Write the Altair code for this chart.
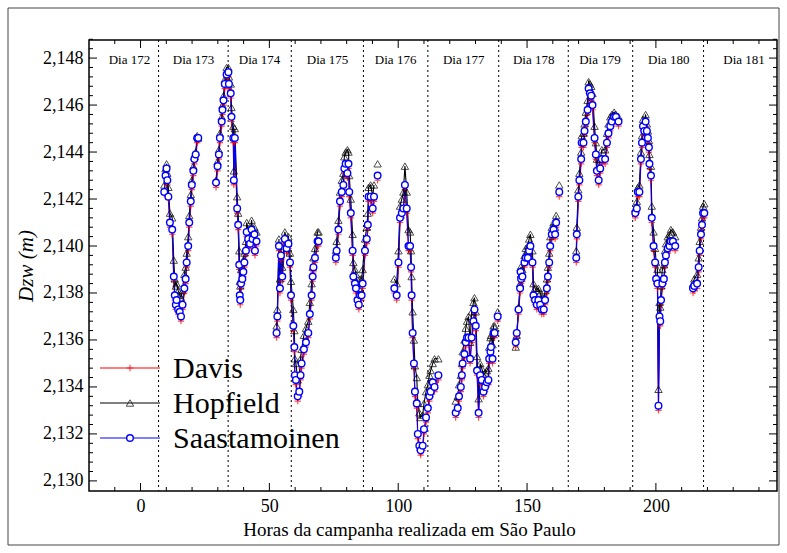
import altair as alt
import pandas as pd

FONT = "Liberation Serif"

# ---------------- data ----------------
series_names = ["Davis", "Hopfield", "Saastamoinen"]

day_labels = ["Dia 172", "Dia 173", "Dia 174", "Dia 175", "Dia 176",
              "Dia 177", "Dia 178", "Dia 179", "Dia 180", "Dia 181"]
day_label_hours = [-4.3, 20.6, 46.2, 72.6, 99.0, 125.4, 152.6, 178.3, 205.0, 234.2]
day_boundaries = [7.0, 34.0, 58.5, 86.5, 111.5, 139.0, 166.0, 191.0, 218.5]

x_tick_values = [0, 50, 100, 150, 200]
y_tick_values = [2.130, 2.132, 2.134, 2.136, 2.138, 2.140, 2.142, 2.144, 2.146, 2.148]

# hours per continuous segment
hours = [
    [9.2, 9.7, 10.1, 10.4, 10.8, 11.4, 12.3, 12.9, 13.3, 13.7, 14.0, 14.6, 15.2, 15.7, 16.3, 17.0, 17.5, 17.9, 18.5, 18.9, 19.5, 19.9, 20.5, 20.9, 21.4, 22.0, 22.4],
    [29.3, 29.9, 30.4, 30.8, 31.5, 31.8, 32.2, 32.7, 33.4, 34.1, 34.3, 35.0, 35.3, 36.0, 36.2, 36.6, 37.5, 37.9, 38.3, 38.5, 38.7, 39.0, 39.5, 39.9, 40.3, 40.9, 41.2, 41.8, 42.5, 43.1, 43.5, 44.2, 44.4, 45.0],
    [52.8, 53.1, 53.7, 54.1, 54.5, 55.0, 56.0, 56.7, 57.4, 58.0, 58.4, 59.3, 59.7, 59.9, 60.3, 61.0, 61.6, 62.1, 62.5, 63.4, 64.2, 65.1, 65.7, 66.4, 66.8, 67.1, 67.7, 68.7, 69.1],
    [75.8, 76.1, 76.8, 77.4, 78.1, 78.7, 79.1, 79.6, 80.3, 80.7, 81.0, 81.6, 82.3, 82.6, 83.2, 83.6, 84.2, 84.7, 85.2, 85.8, 86.2, 87.1, 87.8, 88.2, 88.5, 89.3, 90.1, 90.6],
    [92.0],
    [98.5, 99.4, 100.1, 100.7, 101.4, 102.0, 102.6, 103.3, 104.0, 104.6, 105.0, 105.2, 105.6, 106.1, 106.5, 107.2, 107.6, 108.2, 108.7, 109.5, 110.0, 110.8, 111.5, 112.1, 112.6, 113.4, 114.1, 115.6],
    [122.3, 123.1, 123.6, 124.3, 124.7, 125.0, 125.7, 126.2, 126.7, 127.3, 127.9, 128.5, 129.2, 129.6, 130.1, 130.6, 131.2, 131.8, 132.4, 133.1, 133.7, 134.4, 135.0, 135.3, 135.8, 136.0, 136.6, 137.0, 137.4],
    [138.6],
    [145.6, 146.0, 146.7, 147.3, 147.5, 147.7, 148.2, 149.0, 149.5, 150.3, 150.8, 151.3, 152.1, 152.5, 153.1, 153.8, 154.4, 155.1, 155.7, 156.5, 157.0, 157.7, 158.1, 158.6, 159.0, 159.6, 160.3, 160.9, 161.3],
    [162.5],
    [169.1, 169.3, 169.9, 170.3, 171.0, 171.2, 171.9, 172.3, 172.8, 173.5, 173.9, 174.4, 174.9, 175.4, 176.2, 176.7, 177.1, 177.8, 178.4, 179.0, 180.3, 181.0, 181.6, 182.3, 182.9, 183.8, 184.5, 185.5],
    [192.0, 192.6, 193.0, 193.6, 194.2, 194.6, 195.0, 195.5, 196.0, 196.5, 196.9, 197.3, 197.5, 198.1, 198.4, 199.1, 199.7, 200.1, 200.6, 201.0, 201.4, 201.7, 202.0, 202.5, 203.1, 203.5, 203.9, 204.6, 205.3, 205.8, 206.6, 207.5],
    [214.4, 214.9, 216.0, 216.6, 217.0, 217.5, 217.9, 218.3, 218.8],
]

saastamoinen = [
    [2.1423, 2.1430, 2.1433, 2.1428, 2.1421, 2.1410, 2.1407, 2.1387, 2.1379, 2.1375, 2.1377, 2.1373, 2.1372, 2.1370, 2.1375, 2.1382, 2.1386, 2.1393, 2.1400, 2.1410, 2.1419, 2.1426, 2.1432, 2.1437, 2.1439, 2.1446, 2.1446],
    [2.1427, 2.1434, 2.1439, 2.1446, 2.1453, 2.1458, 2.1462, 2.1469, 2.1473, 2.1474, 2.1469, 2.1465, 2.1455, 2.1446, 2.1428, 2.1446, 2.1416, 2.1409, 2.1392, 2.1379, 2.1377, 2.1384, 2.1386, 2.1389, 2.1393, 2.1398, 2.1406, 2.1403, 2.1401, 2.1407, 2.1403, 2.1405, 2.1398, 2.1402],
    [2.1363, 2.1370, 2.1400, 2.1382, 2.1396, 2.1387, 2.1403, 2.1399, 2.1401, 2.1393, 2.1379, 2.1366, 2.1357, 2.1345, 2.1343, 2.1336, 2.1338, 2.1345, 2.1350, 2.1356, 2.1359, 2.1363, 2.1371, 2.1379, 2.1387, 2.1391, 2.1395, 2.1402, 2.1402],
    [2.1395, 2.1398, 2.1407, 2.1419, 2.1423, 2.1426, 2.1433, 2.1435, 2.1431, 2.1435, 2.1423, 2.1414, 2.1398, 2.1387, 2.1384, 2.1382, 2.1377, 2.1375, 2.1379, 2.1379, 2.1384, 2.1398, 2.1403, 2.1409, 2.1421, 2.1421, 2.1416, 2.1421],
    [2.1430],
    [2.1382, 2.1379, 2.1393, 2.1412, 2.1414, 2.1416, 2.1426, 2.1416, 2.1400, 2.1400, 2.1391, 2.1379, 2.1363, 2.1350, 2.1338, 2.1333, 2.1320, 2.1315, 2.1313, 2.1315, 2.1322, 2.1327, 2.1331, 2.1336, 2.1338, 2.1342, 2.1340, 2.1345],
    [2.1329, 2.1331, 2.1336, 2.1340, 2.1345, 2.1350, 2.1354, 2.1359, 2.1361, 2.1361, 2.1352, 2.1361, 2.1368, 2.1373, 2.1366, 2.1347, 2.1329, 2.1345, 2.1343, 2.1338, 2.1340, 2.1342, 2.1343, 2.1352, 2.1355, 2.1357, 2.1352, 2.1363, 2.1363],
    [2.1370],
    [2.1359, 2.1363, 2.1373, 2.1382, 2.1389, 2.1386, 2.1387, 2.1393, 2.1395, 2.1395, 2.1398, 2.1400, 2.1393, 2.1379, 2.1377, 2.1375, 2.1377, 2.1375, 2.1373, 2.1373, 2.1377, 2.1382, 2.1387, 2.1393, 2.1400, 2.1405, 2.1407, 2.1405, 2.1410],
    [2.1423],
    [2.1395, 2.1405, 2.1421, 2.1428, 2.1437, 2.1444, 2.1444, 2.1449, 2.1453, 2.1458, 2.1467, 2.1465, 2.1464, 2.1460, 2.1446, 2.1439, 2.1432, 2.1428, 2.1433, 2.1437, 2.1437, 2.1444, 2.1448, 2.1451, 2.1453, 2.1455, 2.1455, 2.1453],
    [2.1414, 2.1416, 2.1423, 2.1423, 2.1437, 2.1444, 2.1451, 2.1449, 2.1453, 2.1449, 2.1446, 2.1442, 2.1435, 2.1430, 2.1412, 2.1400, 2.1393, 2.1386, 2.1384, 2.1332, 2.1370, 2.1368, 2.1377, 2.1384, 2.1386, 2.1393, 2.1396, 2.1399, 2.1400, 2.1402, 2.1402, 2.1400],
    [2.1382, 2.1383, 2.1384, 2.1391, 2.1398, 2.1405, 2.1409, 2.1414, 2.1414],
]

hopfield = [
    [2.1426, 2.1433, 2.1435, 2.1431, 2.1425, 2.1414, 2.1412, 2.1394, 2.1386, 2.1383, 2.1384, 2.1381, 2.1379, 2.1378, 2.1381, 2.1388, 2.1391, 2.1397, 2.1404, 2.1413, 2.1422, 2.1428, 2.1434, 2.1438, 2.1440, 2.1447, 2.1446],
    [2.1428, 2.1436, 2.1441, 2.1448, 2.1455, 2.1460, 2.1464, 2.1471, 2.1476, 2.1476, 2.1472, 2.1469, 2.1459, 2.1451, 2.1432, 2.1450, 2.1421, 2.1414, 2.1398, 2.1385, 2.1383, 2.1390, 2.1391, 2.1394, 2.1397, 2.1402, 2.1410, 2.1407, 2.1405, 2.1411, 2.1407, 2.1408, 2.1402, 2.1406],
    [2.1366, 2.1373, 2.1403, 2.1386, 2.1400, 2.1391, 2.1406, 2.1403, 2.1404, 2.1397, 2.1385, 2.1373, 2.1364, 2.1352, 2.1350, 2.1343, 2.1345, 2.1352, 2.1356, 2.1362, 2.1365, 2.1368, 2.1376, 2.1384, 2.1391, 2.1395, 2.1399, 2.1406, 2.1406],
    [2.1398, 2.1402, 2.1411, 2.1423, 2.1428, 2.1431, 2.1438, 2.1440, 2.1441, 2.1440, 2.1430, 2.1420, 2.1405, 2.1393, 2.1390, 2.1388, 2.1384, 2.1382, 2.1386, 2.1386, 2.1390, 2.1403, 2.1408, 2.1414, 2.1425, 2.1426, 2.1421, 2.1426],
    [2.1435],
    [2.1386, 2.1384, 2.1398, 2.1417, 2.1420, 2.1423, 2.1434, 2.1423, 2.1407, 2.1406, 2.1398, 2.1387, 2.1372, 2.1360, 2.1349, 2.1344, 2.1333, 2.1329, 2.1327, 2.1328, 2.1333, 2.1338, 2.1341, 2.1345, 2.1347, 2.1350, 2.1352, 2.1352],
    [2.1334, 2.1336, 2.1341, 2.1345, 2.1350, 2.1355, 2.1360, 2.1365, 2.1368, 2.1370, 2.1359, 2.1372, 2.1376, 2.1378, 2.1372, 2.1353, 2.1335, 2.1350, 2.1348, 2.1345, 2.1346, 2.1347, 2.1348, 2.1357, 2.1361, 2.1362, 2.1358, 2.1366, 2.1366],
    [2.1372],
    [2.1357, 2.1362, 2.1374, 2.1384, 2.1391, 2.1388, 2.1390, 2.1396, 2.1399, 2.1400, 2.1403, 2.1405, 2.1398, 2.1384, 2.1382, 2.1381, 2.1382, 2.1380, 2.1378, 2.1377, 2.1381, 2.1386, 2.1391, 2.1397, 2.1404, 2.1408, 2.1410, 2.1408, 2.1413],
    [2.1426],
    [2.1398, 2.1408, 2.1424, 2.1431, 2.1440, 2.1447, 2.1448, 2.1452, 2.1457, 2.1462, 2.1470, 2.1469, 2.1468, 2.1465, 2.1451, 2.1444, 2.1437, 2.1433, 2.1437, 2.1441, 2.1441, 2.1448, 2.1452, 2.1455, 2.1456, 2.1457, 2.1456, 2.1455],
    [2.1416, 2.1419, 2.1425, 2.1426, 2.1440, 2.1447, 2.1454, 2.1453, 2.1456, 2.1452, 2.1449, 2.1445, 2.1439, 2.1434, 2.1417, 2.1406, 2.1399, 2.1393, 2.1390, 2.1339, 2.1376, 2.1374, 2.1383, 2.1390, 2.1392, 2.1398, 2.1401, 2.1404, 2.1405, 2.1407, 2.1406, 2.1404],
    [2.1384, 2.1386, 2.1388, 2.1395, 2.1402, 2.1408, 2.1412, 2.1417, 2.1418],
]

davis = [
    [2.1422, 2.1429, 2.1432, 2.1426, 2.1420, 2.1408, 2.1405, 2.1385, 2.1377, 2.1373, 2.1375, 2.1371, 2.1370, 2.1368, 2.1373, 2.1380, 2.1384, 2.1391, 2.1398, 2.1408, 2.1417, 2.1424, 2.1430, 2.1435, 2.1437, 2.1444, 2.1445],
    [2.1425, 2.1432, 2.1437, 2.1444, 2.1451, 2.1456, 2.1460, 2.1467, 2.1471, 2.1472, 2.1467, 2.1463, 2.1453, 2.1444, 2.1426, 2.1444, 2.1414, 2.1407, 2.1390, 2.1377, 2.1375, 2.1382, 2.1384, 2.1387, 2.1391, 2.1396, 2.1404, 2.1401, 2.1399, 2.1405, 2.1401, 2.1403, 2.1396, 2.1400],
    [2.1361, 2.1368, 2.1398, 2.1380, 2.1394, 2.1385, 2.1401, 2.1397, 2.1399, 2.1391, 2.1377, 2.1364, 2.1355, 2.1343, 2.1341, 2.1334, 2.1336, 2.1343, 2.1348, 2.1354, 2.1357, 2.1361, 2.1369, 2.1377, 2.1385, 2.1389, 2.1393, 2.1400, 2.1400],
    [2.1393, 2.1396, 2.1405, 2.1417, 2.1421, 2.1424, 2.1431, 2.1433, 2.1429, 2.1433, 2.1421, 2.1412, 2.1396, 2.1385, 2.1382, 2.1380, 2.1375, 2.1373, 2.1377, 2.1377, 2.1382, 2.1396, 2.1401, 2.1407, 2.1419, 2.1419, 2.1414, 2.1419],
    [2.1428],
    [2.1380, 2.1377, 2.1391, 2.1410, 2.1412, 2.1414, 2.1424, 2.1414, 2.1398, 2.1398, 2.1389, 2.1377, 2.1361, 2.1348, 2.1336, 2.1331, 2.1318, 2.1313, 2.1311, 2.1313, 2.1320, 2.1325, 2.1329, 2.1334, 2.1336, 2.1340, 2.1338, 2.1343],
    [2.1327, 2.1329, 2.1334, 2.1338, 2.1343, 2.1348, 2.1352, 2.1357, 2.1359, 2.1359, 2.1350, 2.1359, 2.1366, 2.1371, 2.1364, 2.1345, 2.1327, 2.1343, 2.1341, 2.1336, 2.1338, 2.1340, 2.1341, 2.1350, 2.1353, 2.1355, 2.1350, 2.1361, 2.1361],
    [2.1368],
    [2.1357, 2.1361, 2.1371, 2.1380, 2.1387, 2.1384, 2.1385, 2.1391, 2.1393, 2.1393, 2.1396, 2.1398, 2.1391, 2.1377, 2.1375, 2.1373, 2.1375, 2.1373, 2.1371, 2.1371, 2.1375, 2.1380, 2.1385, 2.1391, 2.1398, 2.1403, 2.1405, 2.1403, 2.1408],
    [2.1421],
    [2.1393, 2.1403, 2.1419, 2.1426, 2.1435, 2.1442, 2.1442, 2.1447, 2.1451, 2.1456, 2.1465, 2.1463, 2.1462, 2.1458, 2.1444, 2.1437, 2.1430, 2.1426, 2.1431, 2.1435, 2.1435, 2.1442, 2.1446, 2.1449, 2.1451, 2.1453, 2.1453, 2.1451],
    [2.1412, 2.1414, 2.1421, 2.1421, 2.1435, 2.1442, 2.1449, 2.1447, 2.1451, 2.1447, 2.1444, 2.1440, 2.1433, 2.1428, 2.1410, 2.1398, 2.1391, 2.1384, 2.1382, 2.1330, 2.1368, 2.1366, 2.1375, 2.1382, 2.1384, 2.1391, 2.1394, 2.1397, 2.1398, 2.1400, 2.1400, 2.1398],
    [2.1380, 2.1381, 2.1382, 2.1389, 2.1396, 2.1403, 2.1407, 2.1412, 2.1412],
]

# ---------------- table ----------------
rows = []
for name, vals in zip(series_names, [davis, hopfield, saastamoinen]):
    for seg_id, (hs, vs) in enumerate(zip(hours, vals)):
        assert len(hs) == len(vs), (name, seg_id)
        for h, v in zip(hs, vs):
            rows.append({"hora": h, "dzw": v, "serie": name, "seg": seg_id})
df = pd.DataFrame(rows)

W, H = 688, 451
xs = alt.Scale(domain=[-20, 247], nice=False, zero=False)
ys = alt.Scale(domain=[2.12957, 2.14877], nice=False, zero=False)

x_minor = [v for v in range(-10, 247, 10) if v % 50 != 0]
y_minor = [round(2.130 + i * 0.0004, 4) for i in range(0, 48) if i % 5 != 0]

colors = {"Davis": "#ff0000", "Hopfield": "#000000", "Saastamoinen": "#0000ff"}
PLUS = "M-1,0H1M0,-1V1"

x_axis = alt.Axis(values=x_tick_values, ticks=False, domain=False, grid=False,
                  labelFont=FONT, labelFontSize=18, labelColor="black", labelPadding=6,
                  title="Horas da campanha realizada em São Paulo", titleFont=FONT,
                  titleFontSize=19, titleFontWeight="normal", titleColor="black", titlePadding=5,
                  titleX=320, titleAlign="center")
y_axis = alt.Axis(values=y_tick_values, ticks=False, domain=False, grid=False,
                  labelExpr="replace(format(datum.value, '.3f'), '.', ',')",
                  labelFont=FONT, labelFontSize=18, labelColor="black", labelPadding=6,
                  title="Dzw (m)", titleFont=FONT, titleFontSize=21, titleFontStyle="italic",
                  titleFontWeight="normal", titleColor="black", titlePadding=6)


def X(field):
    return alt.X(field, scale=xs, axis=x_axis)


def Y(field):
    return alt.Y(field, scale=ys, axis=y_axis)


def point_mark(name):
    if name == "Davis":
        return dict(shape=PLUS, filled=False, color=colors[name], size=40, strokeWidth=1.2)
    if name == "Hopfield":
        return dict(shape="triangle-up", filled=False, color=colors[name], size=55, strokeWidth=1)
    return dict(shape="circle", filled=True, fill="white", stroke=colors[name],
                size=44, strokeWidth=1.4, fillOpacity=1, opacity=1)


layers = []

# outer frame of the figure
one = pd.DataFrame({"k": [0]})
layers.append(alt.Chart(one).mark_rect(fill="transparent", stroke="#444444", strokeWidth=1).encode(
    x=alt.value(-81), x2=alt.value(690), y=alt.value(-32), y2=alt.value(505)))

# lines
for name in series_names:
    d = df[df.serie == name]
    layers.append(alt.Chart(d).mark_line(color=colors[name], strokeWidth=1.1).encode(
        x=X("hora:Q"), y=Y("dzw:Q"), detail="seg:N"))

# day boundaries
layers.append(alt.Chart(pd.DataFrame({"b": day_boundaries})).mark_rule(
    color="black", strokeWidth=1, strokeDash=[2, 3]).encode(x=X("b:Q")))

# day labels
layers.append(alt.Chart(pd.DataFrame({"h": day_label_hours, "t": day_labels})).mark_text(
    font=FONT, fontSize=13, color="black", baseline="middle", align="center").encode(
    x=X("h:Q"), y=alt.value(20), text="t:N"))

# markers
for name in series_names:
    d = df[df.serie == name]
    layers.append(alt.Chart(d).mark_point(**point_mark(name)).encode(
        x=X("hora:Q"), y=Y("dzw:Q")))


# inward ticks on all four sides
def xticks(vals, y0, y1):
    return alt.Chart(pd.DataFrame({"v": vals})).mark_rule(color="black", strokeWidth=1).encode(
        x=X("v:Q"), y=alt.value(y0), y2=alt.value(y1))


def yticks(vals, x0, x1):
    return alt.Chart(pd.DataFrame({"v": vals})).mark_rule(color="black", strokeWidth=1).encode(
        y=Y("v:Q"), x=alt.value(x0), x2=alt.value(x1))


layers += [
    xticks(x_tick_values, H, H - 8), xticks(x_minor, H, H - 4),
    xticks(x_tick_values, 0, 8), xticks(x_minor, 0, 4),
    yticks(y_tick_values, 0, 8), yticks(y_minor, 0, 4),
    yticks(y_tick_values, W, W - 8), yticks(y_minor, W, W - 4),
]

# legend (drawn by hand, inside lower left)
for i, name in enumerate(series_names):
    yy = 328 + i * 35
    lab = pd.DataFrame({"t": [name]})
    layers.append(alt.Chart(lab).mark_rule(color=colors[name], strokeWidth=1.1).encode(
        x=alt.value(11), x2=alt.value(71), y=alt.value(yy)))
    layers.append(alt.Chart(lab).mark_point(**point_mark(name)).encode(
        x=alt.value(41), y=alt.value(yy)))
    layers.append(alt.Chart(lab).mark_text(font=FONT, fontSize=30, color="black",
                                           align="left", baseline="middle").encode(
        x=alt.value(84), y=alt.value(yy + 1), text="t:N"))

chart = alt.layer(*layers).properties(
    width=W, height=H,
    autosize=alt.AutoSizeParams(type="none"),
    padding={"left": 89, "top": 40, "right": 10, "bottom": 62},
    background="white",
).configure_view(stroke="black", strokeWidth=1.5)

chart.save("out.html", embed_options={"renderer": "svg", "actions": False})
